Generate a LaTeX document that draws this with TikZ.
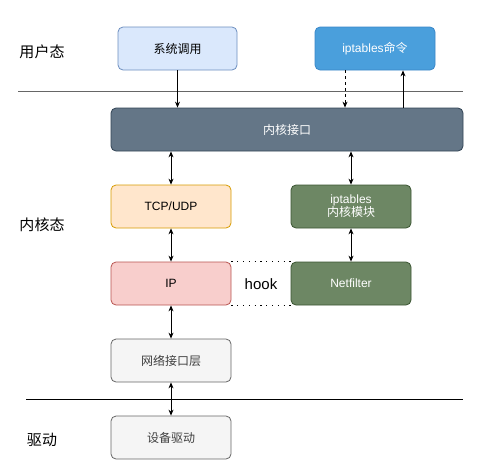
\documentclass[tikz,border=0pt]{standalone}
\usepackage{fontspec}
\setmainfont{Noto Sans CJK SC}
\newfontfamily\latinf{Liberation Sans}
\usetikzlibrary{arrows.meta}
\definecolor{syscallF}{HTML}{DAE8FC}
\definecolor{syscallD}{HTML}{6C8EBF}
\definecolor{iptF}{HTML}{4A9FDC}
\definecolor{iptD}{HTML}{3A86C8}
\definecolor{kifF}{HTML}{647687}
\definecolor{kifD}{HTML}{314354}
\definecolor{tcpF}{HTML}{FFE6CC}
\definecolor{tcpD}{HTML}{D79B00}
\definecolor{grnF}{HTML}{6D8764}
\definecolor{grnD}{HTML}{3A5431}
\definecolor{ipF}{HTML}{F8CECC}
\definecolor{ipD}{HTML}{B85450}
\definecolor{gryF}{HTML}{F5F5F5}
\definecolor{gryD}{HTML}{666666}
\tikzset{
  box/.style={draw, rounded corners=5pt, line width=0.8pt, font=\fontsize{12}{14}\selectfont, align=center, inner sep=0pt},
  lbl/.style={font=\fontsize{15}{18}\selectfont, inner sep=0pt},
  arr/.style={-{Stealth[length=6pt,width=5pt]}, line width=0.8pt},
  darr/.style={{Stealth[length=6pt,width=5pt]}-{Stealth[length=6pt,width=5pt]}, line width=0.8pt},
  hookline/.style={line width=1.2pt, dash pattern=on 1.2pt off 4.6pt},
}
\begin{document}
\begin{tikzpicture}[x=1pt,y=-1pt]
\useasboundingbox (0,0) rectangle (500,471);
% boxes
\node[box, fill=syscallF, draw=syscallD, minimum width=119pt, minimum height=43pt] (sys) at (177.5,48.5) {系统调用};
\node[box, fill=iptF, draw=iptD, text=white, minimum width=120pt, minimum height=43pt] (ipt) at (375,48.5) {{\latinf iptables}命令};
\node[box, fill=kifF, draw=kifD, text=white, minimum width=352pt, minimum height=43pt] (kif) at (287,129.5) {内核接口};
\node[box, fill=tcpF, draw=tcpD, minimum width=120pt, minimum height=43pt] (tcp) at (171,206.5) {\latinf TCP/UDP};
\node[box, fill=grnF, draw=grnD, text=white, minimum width=120pt, minimum height=43pt] (mod) at (351,206.5) {{\latinf iptables}\\[-1pt]内核模块};
\node[box, fill=ipF, draw=ipD, minimum width=120pt, minimum height=43pt] (ip) at (171,283.5) {\latinf IP};
\node[box, fill=grnF, draw=grnD, text=white, minimum width=120pt, minimum height=43pt] (nf) at (351,283.5) {\latinf Netfilter};
\node[box, fill=gryF, draw=gryD, text=black!75, minimum width=120pt, minimum height=43pt] (nic) at (171,360.5) {网络接口层};
\node[box, fill=gryF, draw=gryD, text=black!75, minimum width=120pt, minimum height=43pt] (drv) at (171,437.5) {设备驱动};
% labels
\node[lbl] (lu) at (42,52) {用户态};
\node[lbl] (lk) at (42,225) {内核态};
\node[lbl] (ld) at (42,440) {驱动};
\node[lbl, font=\latinf\fontsize{15}{18}\selectfont] (hook) at (261,284) {hook};
% separators
\coordinate (s1a) at (18,91); \coordinate (s1b) at (463,91);
\coordinate (s2a) at (26,399); \coordinate (s2b) at (463,399);
\draw[line width=0.8pt, draw=gryD] (s1a) -- (s1b);
\draw[line width=0.8pt] (s2a) -- (s2b);
% hook dotted lines
\draw[hookline] (ip.north east) -- (nf.north west);
\draw[hookline] (ip.south east) -- (nf.south west);
% arrows
\draw[arr] (sys.south) -- (sys.south |- kif.north);
\draw[arr, dashed] ([xshift=-30pt]ipt.south) -- ([xshift=-30pt]ipt.south |- kif.north);
\draw[arr] ([xshift=28pt]ipt.south |- kif.north) -- ([xshift=28pt]ipt.south);
\draw[darr] (kif.south -| tcp.north) -- (tcp.north);
\draw[darr] (kif.south -| mod.north) -- (mod.north);
\draw[darr] (tcp.south) -- (ip.north);
\draw[darr] (mod.south) -- (nf.north);
\draw[darr] (ip.south) -- (nic.north);
\draw[darr] (nic.south) -- (drv.north);
\end{tikzpicture}
\end{document}
